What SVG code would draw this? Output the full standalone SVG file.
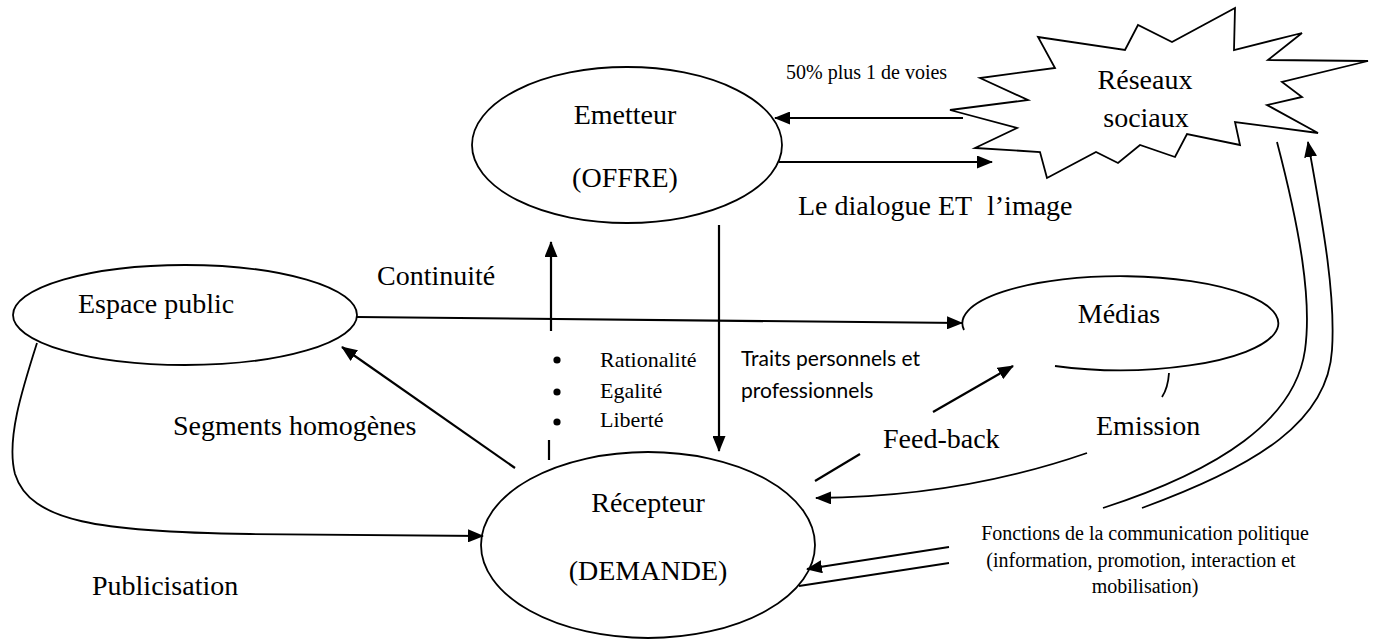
<svg xmlns="http://www.w3.org/2000/svg" width="1373" height="639" viewBox="0 0 1373 639">
  <style>
    .t { font-family: "Liberation Serif", "Times New Roman", serif; font-size: 28px; fill: #000; }
    .t.mid { text-anchor: middle; }
    .t.sm { font-size: 20px; }
    .t.bl { font-size: 22px; }
    .sans { font-family: Lato, "Liberation Sans", sans-serif; font-size: 21px; fill: #000; }
    .node { fill: #fff; stroke: #000; stroke-width: 1.8; }
    .edge { fill: none; stroke: #000; stroke-width: 2.2; }
    .edge.thin { stroke-width: 1.8; }
  </style>
  <defs>
    <marker id="ah" viewBox="0 0 16 13" markerWidth="16" markerHeight="13" refX="15" refY="6.5" orient="auto" markerUnits="userSpaceOnUse">
      <path d="M0,0 L16,6.5 L0,13 z" fill="#000"/>
    </marker>
  </defs>

  <rect width="1373" height="639" fill="#fff"/>

  <!-- nodes -->
  <g id="emetteur">
    <ellipse class="node" cx="627" cy="145" rx="155" ry="78"/>
    <text class="t mid" x="625" y="124">Emetteur</text>
    <text class="t mid" x="625" y="187">(OFFRE)</text>
  </g>

  <g id="reseaux-sociaux">
    <polygon class="node" points="980,78 1028,100 950,110 1017,128 975,148 1040,152 1047,178 1096,152 1118,163 1140,145 1175,157 1187,134 1240,145 1235,122 1318,133 1267,105 1302,97 1282,82 1368,61 1268,60 1302,33 1234,50 1235,8 1172,42 1138,25 1125,50 1038,37 1055,68"/>
    <text class="t mid" x="1145" y="89">Réseaux</text>
    <text class="t mid" x="1146" y="127">sociaux</text>
  </g>

  <g id="espace-public">
    <ellipse class="node" cx="185" cy="315" rx="172" ry="50"/>
    <text class="t" x="78" y="313">Espace public</text>
  </g>

  <g id="medias">
    <path class="node" fill="none" d="M964,330 A158,47 0 1 1 1055,366" style="fill:none"/>
    <text class="t mid" x="1119" y="323">Médias</text>
  </g>

  <g id="recepteur">
    <ellipse class="node" cx="648" cy="545" rx="167" ry="93"/>
    <text class="t mid" x="648" y="512">Récepteur</text>
    <text class="t mid" x="648" y="580">(DEMANDE)</text>
  </g>

  <!-- connectors -->
  <g id="connectors">
    <!-- Réseaux sociaux <-> Emetteur -->
    <line class="edge" x1="963" y1="118" x2="775" y2="118" marker-end="url(#ah)"/>
    <line class="edge" x1="779" y1="162" x2="992" y2="162" marker-end="url(#ah)"/>

    <!-- Espace public -> Médias -->
    <line class="edge" x1="357" y1="317" x2="962" y2="323" marker-end="url(#ah)"/>

    <!-- Récepteur -> Emetteur (dashed gap) -->
    <line class="edge" x1="551" y1="331" x2="551" y2="242" marker-end="url(#ah)"/>
    <line class="edge" x1="549" y1="440" x2="549" y2="460"/>

    <!-- Emetteur -> Récepteur -->
    <line class="edge" x1="719" y1="225" x2="719" y2="451" marker-end="url(#ah)"/>

    <!-- Récepteur -> Espace public -->
    <line class="edge" x1="515" y1="468" x2="342" y2="347" marker-end="url(#ah)"/>

    <!-- Publicisation -->
    <path class="edge thin" d="M37,343 C22,390 6,440 15,474 C30,522 100,532 250,534 L483,536" marker-end="url(#ah)"/>

    <!-- Feed-back -->
    <line class="edge" x1="933" y1="412" x2="1013" y2="366" marker-end="url(#ah)"/>
    <line class="edge" x1="860" y1="454" x2="815" y2="481"/>

    <!-- Emission -->
    <path class="edge thin" d="M1169,373 Q1168,388 1162,397"/>
    <path class="edge thin" d="M1087,453 Q960,497 816,498" marker-end="url(#ah)"/>

    <!-- Réseaux sociaux double curves -->
    <path class="edge thin" d="M1277,142 C1300,230 1312,300 1305,350 C1295,420 1220,470 1103,508"/>
    <path class="edge thin" d="M1142,508 C1260,465 1328,420 1332,350 C1336,290 1320,210 1308,142" marker-end="url(#ah)"/>

    <!-- Fonctions -> Récepteur -->
    <line class="edge thin" x1="949" y1="547" x2="807" y2="569" marker-end="url(#ah)"/>
    <line class="edge thin" x1="949" y1="563" x2="799" y2="586"/>
  </g>

  <!-- free labels -->
  <g id="labels">
    <text class="t sm" x="786" y="79">50% plus 1 de voies</text>
    <text class="t" x="798" y="215">Le dialogue ET<tspan x="987">l’image</tspan></text>
    <text class="t" x="377" y="285">Continuité</text>
    <g id="principes">
      <circle cx="557" cy="360" r="3.6"/>
      <circle cx="557" cy="392" r="3.6"/>
      <circle cx="557" cy="422" r="3.6"/>
      <text class="t bl" x="600" y="367">Rationalité</text>
      <text class="t bl" x="600" y="398">Egalité</text>
      <text class="t bl" x="600" y="427">Liberté</text>
    </g>
    <text class="sans" x="741" y="366">Traits personnels et</text>
    <text class="sans" x="741" y="398">professionnels</text>
    <text class="t" x="173" y="435">Segments homogènes</text>
    <text class="t" x="883" y="448">Feed-back</text>
    <text class="t" x="1096" y="435">Emission</text>
    <text class="t" x="92" y="595">Publicisation</text>
    <text class="t sm mid" x="1145" y="540">Fonctions de la communication politique</text>
    <text class="t sm mid" x="1141" y="567">(information, promotion, interaction et</text>
    <text class="t sm mid" x="1145" y="593">mobilisation)</text>
  </g>
</svg>
